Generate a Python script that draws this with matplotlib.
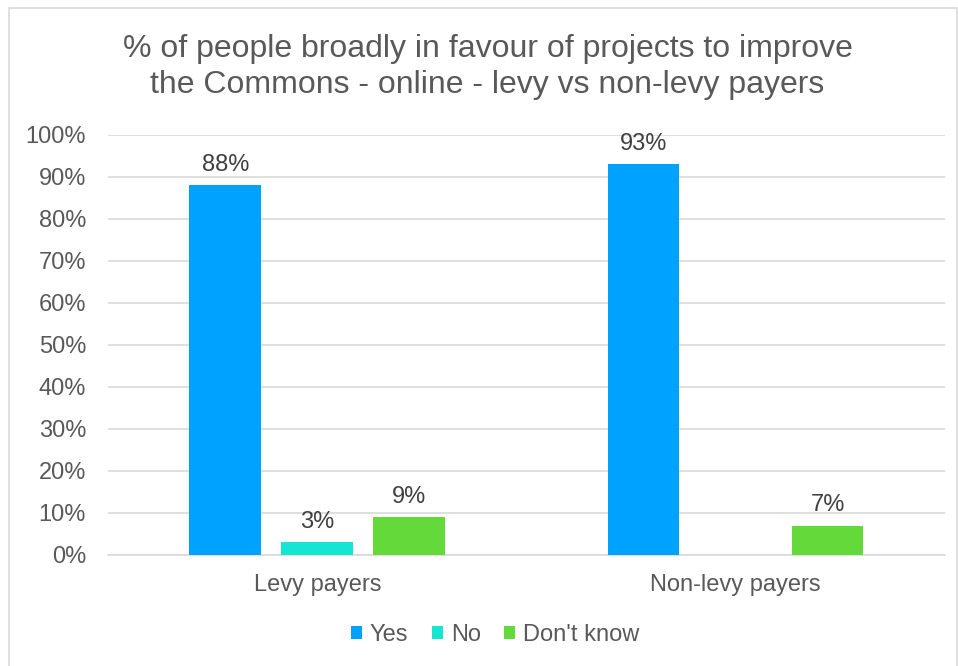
import numpy as np
import matplotlib.pyplot as plt
from matplotlib.patches import Rectangle

plt.rcParams['font.family'] = ['Liberation Sans', 'DejaVu Sans']

# Survey results (percent)
groups = ['Levy payers', 'Non-levy payers']
answers = ['Yes', 'No', "Don't know"]
yes = [88, 93]
no = [3, np.nan]
dont_know = [9, 7]
colors = ['#00A2FF', '#16E6D1', '#63D93A']

fig = plt.figure(figsize=(9.58, 6.66), dpi=100)
ax = fig.add_axes([0.113, 0.1667, 0.873, 0.6306])

x = np.arange(len(groups))
width = 0.172
step = 0.22
for i, (vals, name, c) in enumerate(zip([yes, no, dont_know], answers, colors)):
    bars = ax.bar(x + (i - 1) * step, vals, width, color=c, label=name, zorder=3)
    for b, v in zip(bars, vals):
        if np.isnan(v):
            continue
        ax.text(b.get_x() + b.get_width() / 2, v + 2.2, f'{v:.0f}%',
                ha='center', va='bottom', fontsize=17, color='#404040')

ax.set_xlim(-0.5, 1.5)
ax.set_ylim(0, 100)
ax.set_yticks(np.arange(0, 101, 10))
ax.set_yticklabels([f'{t}%' for t in range(0, 101, 10)])
ax.set_xticks(x)
ax.set_xticklabels(groups)
ax.tick_params(length=0, labelsize=17, colors='#595959')
ax.tick_params(axis='y', pad=16)
ax.tick_params(axis='x', pad=14)
ax.yaxis.grid(True, color='#D9D9D9', linewidth=1.2, zorder=0)
for s in ['top', 'right', 'left']:
    ax.spines[s].set_visible(False)
ax.spines['bottom'].set_color('#D9D9D9')
ax.spines['bottom'].set_linewidth(1.2)

fig.text(0.509, 0.899, '% of people broadly in favour of projects to improve\n'
         'the Commons - online - levy vs non-levy payers',
         ha='center', va='center', fontsize=23, color='#595959', linespacing=1.25)

fig.legend(loc='center', bbox_to_anchor=(0.517, 0.047), ncol=3, frameon=False,
           fontsize=17, handlelength=0.45, handleheight=0.45, handletextpad=0.35,
           columnspacing=1.0, labelcolor='#595959')

fig.patches.append(Rectangle((0.009, -0.01), 0.99, 0.998, transform=fig.transFigure,
                             fill=False, edgecolor='#D9D9D9', linewidth=1.2))

fig.savefig('out.png', dpi=100)
